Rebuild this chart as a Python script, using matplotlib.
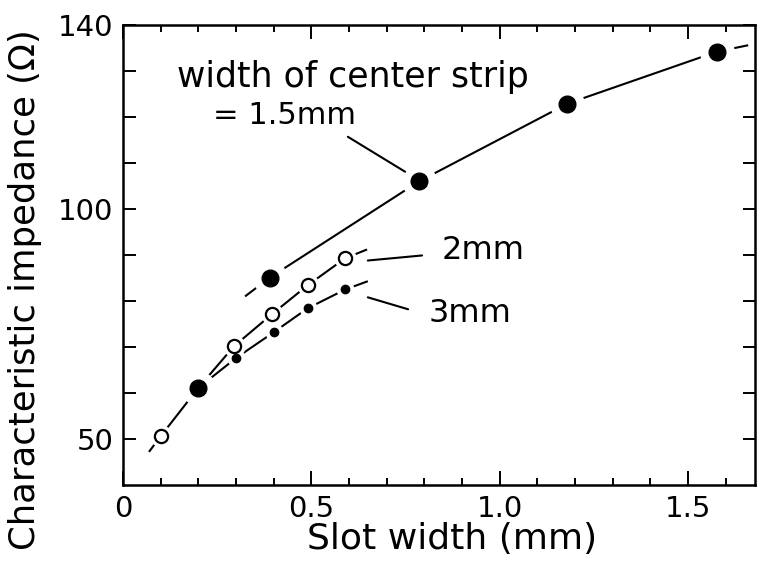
import matplotlib
matplotlib.use("Agg")
import matplotlib.pyplot as plt
from matplotlib.ticker import FixedLocator, MultipleLocator

# ---- data ----
# width of center strip = 1.5 mm (large filled circles)
strip15_x = [0.20, 0.39, 0.786, 1.18, 1.577]
strip15_y = [61.1, 85.1, 106.0, 122.9, 134.2]
# 2 mm (open circles)
strip2_x = [0.10, 0.295, 0.395, 0.49, 0.59]
strip2_y = [50.6, 70.2, 77.1, 83.4, 89.3]
# 3 mm (small filled circles)
strip3_x = [0.30, 0.40, 0.49, 0.59]
strip3_y = [67.6, 73.2, 78.4, 82.5]

# curve traces (as drawn in the reference)
curve15_x = [0.324, 0.39, 0.786, 1.18, 1.577, 1.66]
curve15_y = [81.0, 85.1, 106.0, 122.9, 134.2, 135.6]
curve2_x = [0.069, 0.10, 0.20, 0.295, 0.395, 0.49, 0.59, 0.648]
curve2_y = [47.2, 50.6, 61.1, 70.2, 77.1, 83.4, 89.3, 91.2]
curve3_x = [0.20, 0.30, 0.40, 0.49, 0.59, 0.65]
curve3_y = [61.1, 67.6, 73.2, 78.4, 82.5, 84.3]

x_ticks = [0, 0.5, 1.0, 1.5]
x_ticklabels = ["0", "0.5", "1.0", "1.5"]
y_ticks = [50, 60, 70, 80, 90, 100, 110, 120, 130, 140]
y_ticklabels = ["50", "", "", "", "", "100", "", "", "", "140"]

plt.rcParams["font.family"] = ["DejaVu Sans"]

fig = plt.figure(figsize=(7.57, 5.61), dpi=100)
ax = fig.add_axes([123 / 757, 1 - 485 / 561, (755 - 123) / 757, (485 - 25) / 561])
ax.set_xlim(0, 1.678)
ax.set_ylim(40, 140)

lw = 1.5
# curves
for cx, cy in [(curve15_x, curve15_y), (curve2_x, curve2_y), (curve3_x, curve3_y)]:
    ax.plot(cx, cy, color="black", lw=lw, zorder=2, solid_capstyle="butt")

# white halos to create gaps around markers
ax.plot(strip15_x, strip15_y, ls="none", marker="o", ms=25, mfc="white", mec="none", zorder=3)
ax.plot(strip2_x, strip2_y, ls="none", marker="o", ms=16, mfc="white", mec="none", zorder=3)
ax.plot(strip3_x, strip3_y, ls="none", marker="o", ms=13, mfc="white", mec="none", zorder=3)

# markers
ax.plot(strip15_x, strip15_y, ls="none", marker="o", ms=12, mfc="black", mec="black", zorder=4)
ax.plot(strip2_x, strip2_y, ls="none", marker="o", ms=9.5, mfc="white", mec="black", mew=1.6, zorder=4)
ax.plot(strip3_x, strip3_y, ls="none", marker="o", ms=6, mfc="black", mec="black", zorder=4)

# annotations
ax.text(0.143, 126.6, "width of center strip", fontsize=25, ha="left", va="baseline")
ax.text(0.239, 120.3, "= 1.5mm", fontsize=22, ha="left", va="center")
ax.text(0.847, 91.0, "2mm", fontsize=23, ha="left", va="center")
ax.text(0.81, 77.3, "3mm", fontsize=23, ha="left", va="center")
ax.annotate("", xy=(0.749, 108.1), xytext=(0.597, 115.7),
            arrowprops=dict(arrowstyle="-", color="black", lw=lw, shrinkA=0, shrinkB=0))
ax.annotate("", xy=(0.650, 88.8), xytext=(0.794, 89.9),
            arrowprops=dict(arrowstyle="-", color="black", lw=lw, shrinkA=0, shrinkB=0))
ax.annotate("", xy=(0.650, 80.8), xytext=(0.757, 78.2),
            arrowprops=dict(arrowstyle="-", color="black", lw=lw, shrinkA=0, shrinkB=0))

# axes styling
for s in ax.spines.values():
    s.set_linewidth(1.8)
ax.xaxis.set_major_locator(FixedLocator(x_ticks))
ax.set_xticklabels(x_ticklabels)
ax.xaxis.set_minor_locator(MultipleLocator(0.1))
ax.yaxis.set_major_locator(FixedLocator(y_ticks))
ax.set_yticklabels(y_ticklabels)
ax.tick_params(axis="both", which="both", direction="in", top=True, right=True,
               labelsize=21, width=1.4, pad=7)
ax.tick_params(axis="x", which="major", length=10)
ax.tick_params(axis="x", which="minor", length=5)
ax.tick_params(axis="y", which="major", length=9)

ax.set_xlabel("Slot width (mm)", fontsize=26)
ax.xaxis.set_label_coords(0.52, -0.08)
ax.set_ylabel("Characteristic impedance (\u03a9)", fontsize=25.5)
ax.yaxis.set_label_coords(-0.128, 0.424)

fig.savefig("out.png", dpi=100)
